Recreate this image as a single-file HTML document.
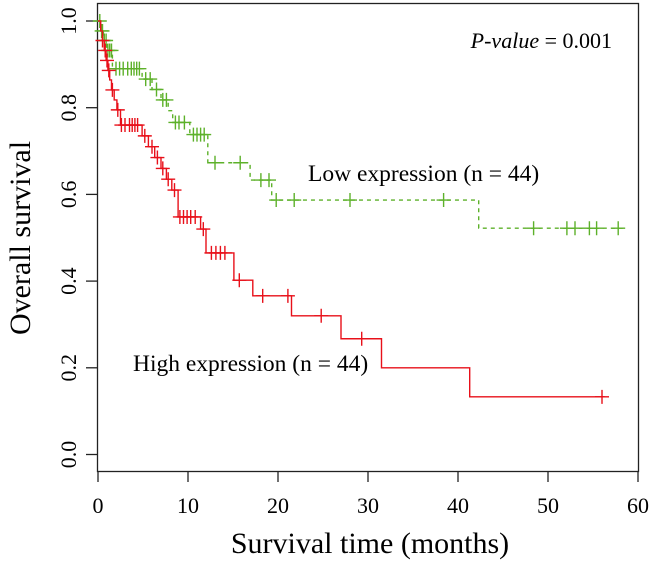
<!DOCTYPE html>
<html><head><meta charset="utf-8"><style>
body{margin:0;background:#fff}
svg{display:block;font-family:"Liberation Serif",serif}
</style></head><body>
<svg id="chart" width="650" height="565" viewBox="0 0 650 565" xmlns="http://www.w3.org/2000/svg">
<rect x="97.5" y="3.5" width="541" height="468" fill="none" stroke="#222" stroke-width="1.3"/>
<g id="axes"></g>
<g id="curves"></g>
<text x="612" y="48" font-size="22" text-anchor="end"><tspan font-style="italic">P-value</tspan> = 0.001</text>
<text x="308" y="181" font-size="23.5">Low expression (n = 44)</text>
<text x="133" y="371" font-size="23.5">High expression (n = 44)</text>
<text x="370" y="553" font-size="30" text-anchor="middle">Survival time (months)</text>
<text x="0" y="0" font-size="30" text-anchor="middle" transform="translate(30,238) rotate(-90)">Overall survival</text>
</svg>
<script>
const xTicks=[0,10,20,30,40,50,60];
const yTicks=[0,0.2,0.4,0.6,0.8,1.0];
const yTickLabels=["0.0","0.2","0.4","0.6","0.8","1.0"];
const highTimes=[0,0.3,0.5,0.7,0.9,1.1,1.3,1.5,1.8,2.1,2.5,4.9,5.6,6.3,7.0,7.6,8.2,8.9,11.4,12.0,15.1,17.2,21.5,27.0,31.5,41.3];
const highSurvAfter=[1,0.977,0.955,0.932,0.909,0.886,0.864,0.841,0.818,0.795,0.76,0.735,0.71,0.685,0.66,0.635,0.61,0.548,0.52,0.465,0.402,0.366,0.32,0.267,0.2,0.133];
const highCensor=[0.5,0.8,1.0,1.2,1.6,2.2,2.6,3.0,3.5,3.8,4.1,4.4,5.2,6.0,6.6,7.2,7.8,8.5,9.1,9.5,9.9,10.3,10.8,11.7,12.6,13.1,13.6,14.1,15.7,18.3,21.1,24.8,29.3,56.0];
const lowTimes=[0,0.3,0.6,1.0,1.6,4.9,6.0,7.0,7.8,8.3,10.2,12.2,16.9,19.3,42.3];
const lowSurvAfter=[1,0.977,0.955,0.932,0.89,0.866,0.842,0.818,0.793,0.766,0.738,0.673,0.633,0.587,0.522];
const lowCensor=[0.2,0.4,0.5,0.7,0.9,1.1,1.3,1.5,2.0,2.4,2.8,3.3,3.7,4.0,4.3,4.6,5.3,5.8,6.5,7.2,7.6,8.6,9.0,9.6,10.6,11.0,11.4,11.8,13.0,15.8,18.1,19.0,19.8,21.8,28.0,38.4,48.4,52.1,53.0,54.6,55.4,57.8];
const lowEnd=58.3, highEnd=56.3;

const NS="http://www.w3.org/2000/svg";
const X=t=>98+9*t;
const Y=s=>454.5-433.5*s;
function mk(tag,attrs,parent){const e=document.createElementNS(NS,tag);for(const k in attrs)e.setAttribute(k,attrs[k]);parent.appendChild(e);return e;}
const axes=document.getElementById('axes');
xTicks.forEach(t=>{
  const l=mk('line',{x1:X(t),x2:X(t),y1:471.5,y2:482,stroke:'#222','stroke-width':1.3},axes);
  
  
  const tx=mk('text',{x:X(t),y:513,'font-size':22,'text-anchor':'middle'},axes);
  tx.textContent=t;
  
  
});
yTicks.forEach((s,i)=>{
  const l=mk('line',{x1:86,x2:97.5,y1:Y(s),y2:Y(s),stroke:'#222','stroke-width':1.3},axes);
  
  
  const tx=mk('text',{x:0,y:0,'font-size':22,'text-anchor':'middle',transform:`translate(76,${Y(s)}) rotate(-90)`},axes);
  tx.textContent=yTickLabels[i];
  
  
});
function survAt(times,surv,t){let s=surv[0];for(let i=0;i<times.length;i++){if(times[i]<=t)s=surv[i];}return s;}
function drawCurve(times,surv,end,censor,color,dash,name){
  const g=document.getElementById('curves');
  let d=`M${X(0)},${Y(surv[0])}`;
  for(let i=1;i<times.length;i++){d+=` H${X(times[i])} V${Y(surv[i])}`;}
  d+=` H${X(end)}`;
  const p=mk('path',{d:d,fill:'none',stroke:color,'stroke-width':1.4},g);
  if(dash)p.setAttribute('stroke-dasharray',dash);
  
  
  censor.forEach(t=>{
    const s=survAt(times,surv,t);
    const c=mk('path',{d:`M${X(t)-7},${Y(s)} H${X(t)+7} M${X(t)},${Y(s)-7} V${Y(s)+7}`,stroke:color,'stroke-width':1.4,fill:'none'},g);
    
    
  });
}
drawCurve(lowTimes,lowSurvAfter,lowEnd,lowCensor,'#5db12a','4 4','low-expression');
drawCurve(highTimes,highSurvAfter,highEnd,highCensor,'#e8101a',null,'high-expression');
</script>
</body></html>
